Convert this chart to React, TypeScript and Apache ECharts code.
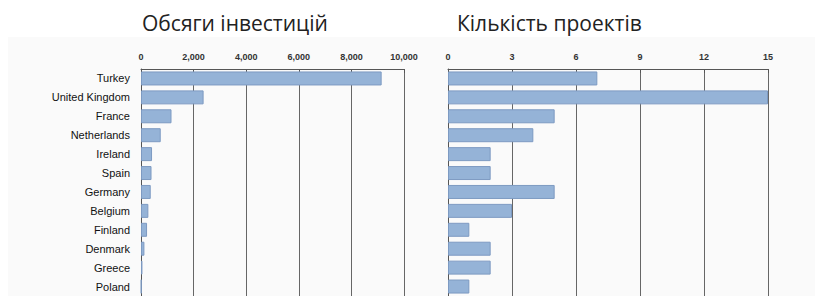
import React, { useEffect, useRef } from "react";
import * as echarts from "echarts";

const categories = [
  "Turkey",
  "United Kingdom",
  "France",
  "Netherlands",
  "Ireland",
  "Spain",
  "Germany",
  "Belgium",
  "Finland",
  "Denmark",
  "Greece",
  "Poland",
];
const investmentVolume = [9150, 2380, 1160, 750, 420, 400, 370, 280, 230, 130, 55, 15];
const projectCount = [7, 15, 5, 4, 2, 2, 5, 3, 1, 2, 2, 1];
const titles = ["Обсяги інвестицій", "Кількість проектів"];

export default function App() {
  const ref = useRef<HTMLDivElement>(null);
  useEffect(() => {
    document.body.style.margin = "0";
    if (!ref.current) return;
    const chart = echarts.init(ref.current, undefined, { renderer: "svg" });
    const labelFont = { fontFamily: "Liberation Sans, Arial, sans-serif" };
    const xAxisBase = {
      type: "value" as const,
      position: "top" as const,
      axisLine: { show: true, lineStyle: { color: "#555", width: 1 } },
      axisTick: { show: true, length: 4, inside: true, lineStyle: { color: "#555" } },
      splitLine: { show: true, lineStyle: { color: "#666", width: 1 } },
      axisLabel: {
        ...labelFont,
        fontSize: 9,
        fontWeight: "bold" as const,
        color: "#333",
        margin: 8,
      },
    };
    const yAxisBase = {
      type: "category" as const,
      data: categories,
      inverse: true,
      axisLine: { show: true, lineStyle: { color: "#555" } },
      axisTick: { show: false },
      splitLine: { show: false },
    };
    const barStyle = {
      color: "#95b3d7",
      borderColor: "#7d9ac2",
      borderWidth: 1,
    };
    const titleStyle = {
      fontFamily: "Open Sans, sans-serif",
      fontSize: 21,
      fontWeight: "normal" as const,
      color: "#222",
    };
    chart.setOption({
      animation: false,
      backgroundColor: "#ffffff",
      graphic: [
        {
          type: "rect",
          shape: { x: 8, y: 37, width: 807, height: 259 },
          style: { fill: "#fafafa" },
          z: -10,
          silent: true,
        },
      ],
      title: [
        { text: titles[0], left: 137, top: 7, textStyle: titleStyle },
        { text: titles[1], left: 452, top: 7, textStyle: titleStyle },
      ],
      grid: [
        { left: 141, right: 411, top: 69, height: 228 },
        { left: 448, right: 47, top: 69, height: 228 },
      ],
      xAxis: [
        {
          ...xAxisBase,
          gridIndex: 0,
          min: 0,
          max: 10000,
          interval: 2000,
          axisLabel: {
            ...xAxisBase.axisLabel,
            formatter: (v: number) => v.toLocaleString("en-US"),
          },
        },
        {
          ...xAxisBase,
          gridIndex: 1,
          min: 0,
          max: 15,
          interval: 3,
        },
      ],
      yAxis: [
        {
          ...yAxisBase,
          gridIndex: 0,
          axisLabel: {
            ...labelFont,
            fontSize: 11,
            fontWeight: "normal",
            color: "#111",
            margin: 11,
          },
        },
        {
          ...yAxisBase,
          gridIndex: 1,
          axisLabel: { show: false },
        },
      ],
      series: [
        {
          type: "bar",
          xAxisIndex: 0,
          yAxisIndex: 0,
          data: investmentVolume,
          barCategoryGap: "26%",
          itemStyle: barStyle,
        },
        {
          type: "bar",
          xAxisIndex: 1,
          yAxisIndex: 1,
          data: projectCount,
          barCategoryGap: "26%",
          itemStyle: barStyle,
        },
      ],
    });
    return () => chart.dispose();
  }, []);
  return <div ref={ref} style={{ width: 815, height: 296 }} />;
}
